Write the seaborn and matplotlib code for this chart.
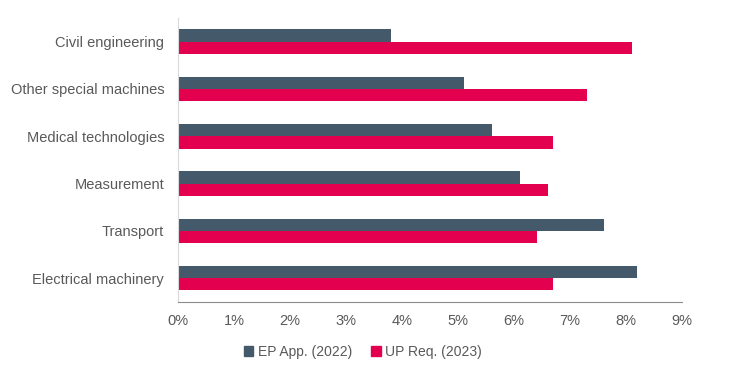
import pandas as pd
import matplotlib.pyplot as plt
import seaborn as sns
from matplotlib.ticker import FuncFormatter, MultipleLocator
from matplotlib.patches import Patch

categories = ["Civil engineering", "Other special machines", "Medical technologies",
              "Measurement", "Transport", "Electrical machinery"]
ep_app_2022 = [3.8, 5.1, 5.6, 6.1, 7.6, 8.2]
up_req_2023 = [8.1, 7.3, 6.7, 6.6, 6.4, 6.7]
series_names = ["EP App. (2022)", "UP Req. (2023)"]
colors = ["#44596A", "#E3004F"]

df = pd.DataFrame({
    "category": categories * 2,
    "value": ep_app_2022 + up_req_2023,
    "series": [series_names[0]] * len(categories) + [series_names[1]] * len(categories),
})

sns.set_style("white")
plt.rcParams["font.family"] = ["Liberation Sans", "DejaVu Sans"]
text_color = "#595959"

fig = plt.figure(figsize=(7.48, 3.74), dpi=100)
ax = fig.add_axes([0.238, 0.193, 0.674, 0.759])

sns.barplot(data=df, y="category", x="value", hue="series", orient="h",
            order=categories, hue_order=series_names, palette=colors,
            width=0.52, saturation=1, linewidth=0, edgecolor="none",
            ax=ax, legend=False)

ax.set_xlim(0, 9)
ax.set_ylim(5.5, -0.5)
ax.xaxis.set_major_locator(MultipleLocator(1))
ax.xaxis.set_major_formatter(FuncFormatter(lambda x, p: f"{x:.0f}%"))
ax.set_xlabel("")
ax.set_ylabel("")

for s in ["top", "right"]:
    ax.spines[s].set_visible(False)
ax.spines["left"].set_color("#D9D9D9")
ax.spines["bottom"].set_color("#8C8C8C")
ax.tick_params(axis="x", direction="out", length=5, color="#8C8C8C",
               labelsize=10.5, labelcolor=text_color, pad=4)
ax.tick_params(axis="y", length=0, labelsize=10.5, labelcolor=text_color, pad=10)

handles = [Patch(color=c, label=n) for c, n in zip(colors, series_names)]
fig.legend(handles=handles, loc="center", bbox_to_anchor=(0.485, 0.06), ncol=2,
           frameon=False, fontsize=10, labelcolor=text_color,
           handlelength=0.7, handleheight=0.7, handletextpad=0.3, columnspacing=1.4)

fig.savefig("out.png", dpi=100)
